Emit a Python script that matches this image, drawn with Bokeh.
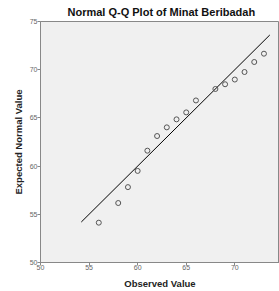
from bokeh.plotting import figure
from bokeh.models import FixedTicker, ColumnDataSource
from bokeh.embed import file_html
from bokeh.resources import INLINE

observed = [56, 58, 59, 60, 61, 62, 63, 64, 65, 66, 68, 69, 70, 71, 72, 73]
expected = [54.13, 56.17, 57.82, 59.5, 61.6, 63.12, 64.02, 64.85, 65.57, 66.81,
            68.0, 68.49, 68.98, 69.76, 70.8, 71.66]
ref_line = [54.2, 73.6]
x_ticks = [50, 55, 60, 65, 70]
y_ticks = [50, 55, 60, 65, 70, 75]

FONT = "Liberation Sans"

p = figure(width=279, height=291, x_range=(50, 74.6), y_range=(50, 75),
           output_backend="svg", toolbar_location=None,
           title="Normal Q-Q Plot of Minat Beribadah",
           min_border_left=40, min_border_right=0, min_border_top=0, min_border_bottom=0)
p.background_fill_color = "#f0f0f0"
p.border_fill_color = "white"
p.outline_line_color = "#888888"
p.grid.visible = False

p.title.text_font = FONT
p.title.text_font_size = "11px"
p.title.text_font_style = "bold"
p.title.text_color = "#111111"
p.title.align = "left"
p.title.offset = 27
p.title.standoff = 7

for ax, ticks, lab in ((p.xaxis[0], x_ticks, "Observed Value"), (p.yaxis[0], y_ticks, "Expected Normal Value")):
    ax.ticker = FixedTicker(ticks=ticks)
    ax.minor_tick_line_color = None
    ax.major_tick_in = 0
    ax.major_tick_out = 3
    ax.axis_line_color = "#888888"
    ax.major_tick_line_color = "#888888"
    ax.major_label_text_font = FONT
    ax.major_label_text_font_size = "7px"
    ax.major_label_text_color = "#666666"
    ax.axis_label = lab
    ax.axis_label_text_font = FONT
    ax.axis_label_text_font_size = "9.5px"
    ax.axis_label_text_font_style = "bold"
    ax.axis_label_text_color = "#222222"
p.xaxis[0].major_label_standoff = -1
p.yaxis[0].major_label_standoff = 0
p.xaxis[0].axis_label_standoff = 5
p.yaxis[0].axis_label_standoff = 3

p.line(ref_line, ref_line, line_color="black", line_width=1)
src = ColumnDataSource(dict(x=observed, y=expected))
p.scatter("x", "y", source=src, marker="circle", size=5, fill_color=None,
          line_color="#555555", line_width=1)

open("out.html", "w").write(file_html(p, INLINE))
